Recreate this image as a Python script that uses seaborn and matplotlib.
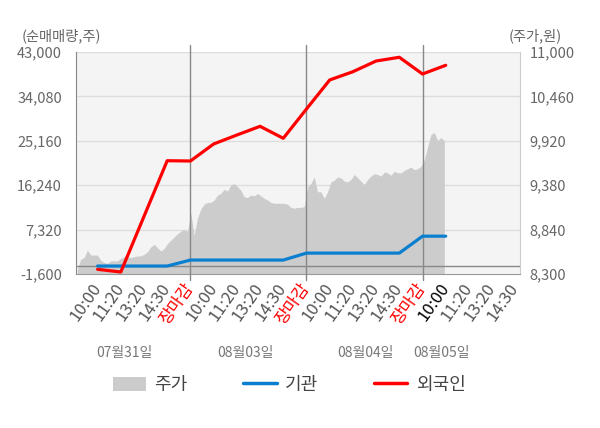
import numpy as np
import matplotlib
matplotlib.use('Agg')
import matplotlib.pyplot as plt
import seaborn as sns
from matplotlib.patches import Patch
from matplotlib.lines import Line2D

sns.set_style('white')
plt.rcParams['font.family'] = ['Noto Sans CJK KR', 'DejaVu Sans']

# x positions are "slots": 5 labelled slots per trading day
tick_labels = ['10:00', '11:20', '13:20', '14:30', '장마감'] * 3 + ['10:00', '11:20', '13:20', '14:30']
day_labels = ['07월31일', '08월03일', '08월04일', '08월05일']
day_label_pos = [2.14, 7.36, 12.53, 15.8]

# net buying (shares), one value per slot
flow_slots = list(range(1, 17))
foreign = [-660, -1200, 9980, 21160, 21100, 24520, 26320, 28070, 25660, 31550,
           37380, 39040, 41190, 41940, 38580, 40330]
institution = [0, 0, 0, 0, 1200, 1200, 1200, 1200, 1200, 2600,
               2600, 2600, 2600, 2600, 6000, 6000]

# intraday share price (won)
price = [8360, 8480, 8500, 8590, 8530, 8530, 8530, 8470, 8440, 8430,
         8460, 8460, 8460, 8490, 8510, 8510, 8500, 8510, 8520, 8520,
         8540, 8570, 8630, 8660, 8620, 8580, 8610, 8670, 8710, 8750,
         8790, 8820, 8840, 8820, 9040, 8770, 8980, 9090, 9150, 9170,
         9170, 9200, 9260, 9280, 9330, 9310, 9380, 9400, 9360, 9320,
         9240, 9230, 9260, 9250, 9280, 9250, 9220, 9200, 9170, 9160,
         9160, 9160, 9160, 9150, 9110, 9100, 9110, 9110, 9120, 9360,
         9400, 9480, 9300, 9300, 9220, 9300, 9420, 9440, 9480, 9470,
         9430, 9420, 9450, 9510, 9470, 9430, 9390, 9450, 9490, 9520,
         9510, 9490, 9540, 9530, 9500, 9550, 9530, 9530, 9560, 9580,
         9600, 9570, 9580, 9610, 9690, 9850, 10000, 10020, 9920, 9960,
         9920]
price_t = np.linspace(0.13, 15.94, len(price))

left_ticks = [-1600, 7320, 16240, 25160, 34080, 43000]
right_ticks = [8300, 8840, 9380, 9920, 10460, 11000]

fig = plt.figure(figsize=(6, 4.28), dpi=100)
ax = fig.add_axes([76 / 600, 1 - 274 / 428, 444 / 600, 222 / 428])
ax.set_facecolor('#f4f4f4')

# price area on ax (right scale)
ax.fill_between(price_t, 8300, price, color='#cccccc', lw=0, zorder=2)
ax.set_ylim(8300, 11000)
ax.set_xlim(0.07, 19.2)
for v in right_ticks[1:]:
    ax.axhline(v, color='#dddddd', lw=1, zorder=1)

# flows on twin (left scale)
ax2 = ax.twinx()
ax.yaxis.tick_right()
ax2.yaxis.tick_left()
ax.set_yticks(right_ticks)
ax.set_yticklabels([f'{v:,}' for v in right_ticks])
ax2.set_ylim(-1600, 43000)
ax2.set_yticks(left_ticks)
ax2.set_yticklabels([f'{v:,}' for v in left_ticks])
ax2.axhline(0, color='#888888', lw=1, zorder=1)
for d in [5, 10, 15]:
    ax2.axvline(d, ymin=-0.027, ymax=1.03, color='#888888', lw=1, clip_on=False, zorder=1)
sns.lineplot(x=flow_slots, y=institution, ax=ax2, color='#0a7fd0', lw=2.3, zorder=3)
sns.lineplot(x=flow_slots, y=foreign, ax=ax2, color='#ff0000', lw=2.3, zorder=4)
ax2.set_xlim(0.07, 19.2)

for a in (ax, ax2):
    a.tick_params(axis='y', length=0, labelsize=10.5, labelcolor='#666666')
    for s in a.spines.values():
        s.set_visible(False)
ax.tick_params(axis='y', pad=7)
ax2.tick_params(axis='y', pad=10)

ax.spines['left'].set_visible(True)
ax.spines['left'].set_color('#888888')
ax.spines['right'].set_visible(True)
ax.spines['right'].set_color('#cccccc')
ax.spines['bottom'].set_visible(True)
ax.spines['bottom'].set_color('#999999')

ax.set_xticks(range(1, len(tick_labels) + 1))
ax.set_xticklabels(tick_labels, rotation=55, ha='right', va='center', rotation_mode='anchor')
ax.tick_params(axis='x', length=0, pad=8, labelsize=12, labelcolor='#555555')
for i, lab in enumerate(ax.get_xticklabels()):
    if tick_labels[i] == '장마감':
        lab.set_color('#ff0000')
    elif i == 15:
        lab.set_color('#000000')
ax2.tick_params(axis='x', length=0, labelbottom=False)

for pos, txt in zip(day_label_pos, day_labels):
    ax.text(pos, -0.355, txt, transform=ax.get_xaxis_transform(), ha='center', va='center',
            fontsize=10, color='#777777')

fig.text(22 / 600, 1 - 36 / 428, '(순매매량,주)', ha='left', va='center', fontsize=10.3, color='#666666')
fig.text(562 / 600, 1 - 36 / 428, '(주가,원)', ha='right', va='center', fontsize=10.3, color='#666666')

handles = [Patch(facecolor='#cccccc', edgecolor='none'),
           Line2D([0], [0], color='#0a7fd0', lw=2.5),
           Line2D([0], [0], color='#ff0000', lw=2.5)]
fig.legend(handles, ['주가', '기관', '외국인'], loc='center', bbox_to_anchor=(289 / 600, 1 - 385 / 428),
           ncol=3, frameon=False, fontsize=13, handlelength=1.85, handleheight=0.8,
           handletextpad=0.45, columnspacing=3.1, labelcolor='#444444')

fig.savefig('out.png', dpi=100)
